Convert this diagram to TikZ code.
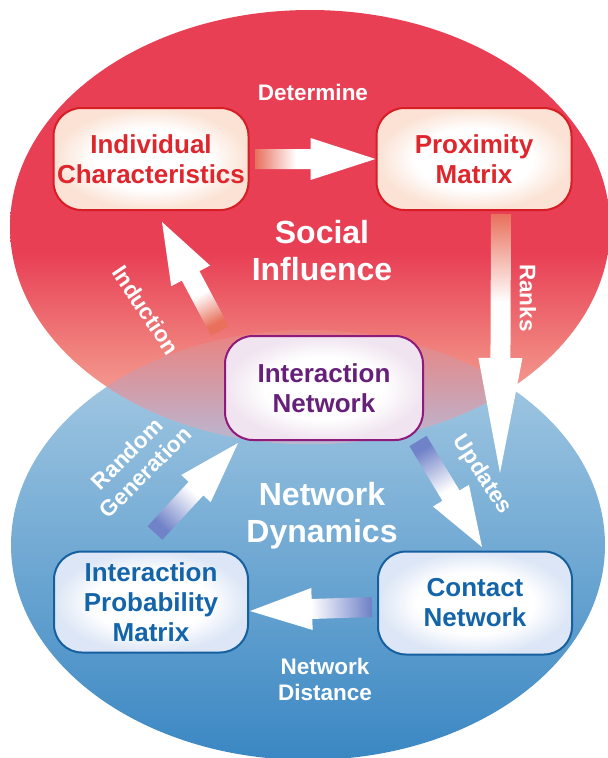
\documentclass[tikz,border=0pt]{standalone}
\usepackage{fontspec}
\setmainfont{Liberation Sans}
\usetikzlibrary{calc}

\definecolor{redtop}{RGB}{232,63,85}
\definecolor{redlow}{RGB}{240,128,124}
\definecolor{redbot}{RGB}{247,184,168}
\definecolor{bluetop}{RGB}{172,206,229}
\definecolor{bluemid}{RGB}{100,163,209}
\definecolor{bluebot}{RGB}{58,135,195}
\definecolor{ovtop}{RGB}{236,128,124}
\definecolor{ovbot}{RGB}{184,184,212}
\definecolor{redline}{RGB}{214,30,36}
\definecolor{redtext}{RGB}{222,38,44}
\definecolor{purpline}{RGB}{142,26,124}
\definecolor{purptext}{RGB}{102,32,122}
\definecolor{blueline}{RGB}{22,96,160}
\definecolor{bluetext}{RGB}{20,100,170}
\definecolor{peach}{RGB}{251,226,212}
\definecolor{lilac}{RGB}{240,228,240}
\definecolor{icy}{RGB}{220,230,246}
\definecolor{redtail}{RGB}{232,112,92}
\definecolor{bluetail}{RGB}{112,130,200}

\pgfdeclareverticalshading{redsky}{100bp}{color(0bp)=(redbot); color(25bp)=(redbot); color(36bp)=(redlow); color(47bp)=(redtop); color(100bp)=(redtop)}
\pgfdeclarehorizontalshading{redfade}{100bp}{color(0bp)=(redtail); color(25bp)=(redtail); color(42bp)=(white); color(100bp)=(white)}
\pgfdeclarehorizontalshading{bluefade}{100bp}{color(0bp)=(bluetail); color(25bp)=(bluetail); color(50bp)=(white); color(100bp)=(white)}
\pgfdeclareradialshading{glowred}{\pgfpoint{0bp}{0bp}}{color(0bp)=(white); color(15bp)=(white); color(25bp)=(peach); color(50bp)=(peach)}
\pgfdeclareradialshading{glowpurple}{\pgfpoint{0bp}{0bp}}{color(0bp)=(white); color(15bp)=(white); color(25bp)=(lilac); color(50bp)=(lilac)}
\pgfdeclareradialshading{glowblue}{\pgfpoint{0bp}{0bp}}{color(0bp)=(white); color(15bp)=(white); color(25bp)=(icy); color(50bp)=(icy)}

\tikzset{
  box/.style={draw, line width=2pt, rounded corners=28pt, minimum width=195pt, minimum height=102pt,
    align=center, shade, font=\bfseries\fontsize{26}{30}\selectfont},
  lbl/.style={text=white, align=center, font=\bfseries\fontsize{22.5}{26}\selectfont},
  big/.style={text=white, align=center, font=\bfseries\fontsize{32}{37}\selectfont}
}

% fat block arrow: shading, tail, tip, head length, head half-width
\newcommand{\fatarrow}[5]{%
  \coordinate (fa-h) at ($(#3)!#4!(#2)$);
  \shade[#1] ($(#2)!10pt!90:(#3)$) -- ($(fa-h)!10pt!90:(#3)$) -- ($(fa-h)!#5!90:(#3)$) -- (#3)
    -- ($(fa-h)!#5!-90:(#3)$) -- ($(fa-h)!10pt!-90:(#3)$) -- ($(#2)!10pt!-90:(#3)$) -- cycle;
}

\begin{document}
\begin{tikzpicture}[x=1pt,y=1pt,yscale=-1,xscale=1]
\useasboundingbox (0,0) rectangle (608,758);

%Shape: Ellipse [network dynamics]
\shade[top color=bluetop, middle color=bluemid, bottom color=bluebot] (308,545) ellipse [x radius=297pt, y radius=215pt];
%Shape: Ellipse [social influence]
\shade[shading=redsky] (310,227) ellipse [x radius=300pt, y radius=217pt];
%Overlap of both ellipses
\begin{scope}
  \clip (310,227) ellipse [x radius=300pt, y radius=217pt];
  \clip (308,545) ellipse [x radius=297pt, y radius=215pt];
  \shade[top color=ovtop, bottom color=ovbot] (0,326) rectangle (608,446);
\end{scope}

% Boxes
\node[box, draw=redline, shading=glowred, text=redtext] (indiv) at (151,159) {Individual\\Characteristics};
\node[box, draw=redline, shading=glowred, text=redtext] (prox) at (474,159) {Proximity\\Matrix};
\node[box, draw=purpline, shading=glowpurple, text=purptext, minimum width=198pt, minimum height=104pt] (inter) at (324,388) {Interaction\\Network};
\node[box, draw=blueline, shading=glowblue, text=bluetext, minimum width=194pt, minimum height=101pt] (prob) at (151,602) {Interaction\\Probability\\Matrix};
\node[box, draw=blueline, shading=glowblue, text=bluetext, minimum width=194pt, minimum height=103pt] (contact) at (475,603) {Contact\\Network};

% Text Node
\node[big] (social) at (322,251) {Social\\Influence};
\node[big] (dynamics) at (322,516) {Network\\Dynamics};
\node[lbl] (determine) at (313,92) {Determine};
\node[lbl] (distance) at (325,679) {Network\\Distance};
\node[lbl, rotate=-56] (induction) at (146,310) {Induction};
\node[lbl, rotate=-90] (ranks) at (528,298) {Ranks};
\node[lbl, rotate=-57] (updates) at (482,475) {Updates};
\node[lbl, rotate=45] (random) at (136,463) {Random\\Generation};

% Arrows
\coordinate (detS) at (255,159);
\coordinate (rankS) at (501,214);
\coordinate (rankE) at (500,473);
\coordinate (indS) at (220,331);
\coordinate (indE) at (162,222);
\coordinate (rgS) at (155,533);
\coordinate (rgE) at (238,443);
\coordinate (updS) at (418,441);
\coordinate (updE) at (482,547);
\coordinate (ndS) at (372,607);
\coordinate (ndE) at (250,611);
\fatarrow{shading=redfade, shading angle=0}{detS}{prox.west}{65pt}{21pt}
\fatarrow{shading=redfade, shading angle=-90}{rankS}{rankE}{115pt}{22pt}
\fatarrow{shading=redfade, shading angle=118}{indS}{indE}{61pt}{22pt}
\fatarrow{shading=bluefade, shading angle=47}{rgS}{rgE}{62pt}{20pt}
\fatarrow{shading=bluefade, shading angle=-59}{updS}{updE}{60pt}{21pt}
\fatarrow{shading=bluefade, shading angle=182}{ndS}{ndE}{62pt}{21pt}

\end{tikzpicture}
\end{document}
